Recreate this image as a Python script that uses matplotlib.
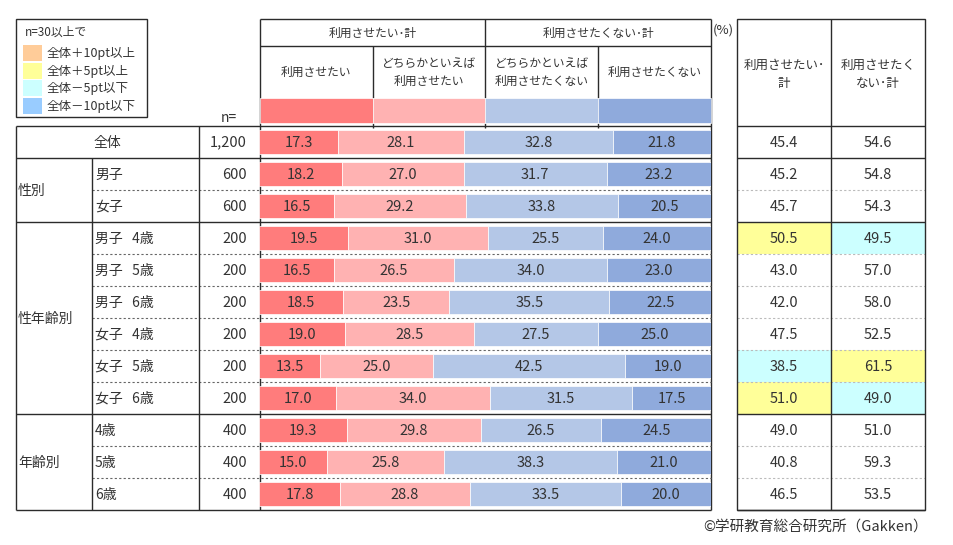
import numpy as np
import matplotlib
matplotlib.use("Agg")
import matplotlib.pyplot as plt
from matplotlib.patches import Rectangle

plt.rcParams['font.family'] = ['Noto Sans CJK JP', 'DejaVu Sans']

# ---- data ----
group_labels = ["", "性別", "性年齢別", "年齢別"]
group_sizes = [1, 2, 6, 3]
row_labels = ["全体", "男子", "女子",
              "男子   4歳", "男子   5歳", "男子   6歳",
              "女子   4歳", "女子   5歳", "女子   6歳",
              "4歳", "5歳", "6歳"]
n_values = [1200, 600, 600, 200, 200, 200, 200, 200, 200, 400, 400, 400]

categories = ["利用させたい", "どちらかといえば\n利用させたい",
              "どちらかといえば\n利用させたくない", "利用させたくない"]
group_heads = ["利用させたい･計", "利用させたくない･計"]

want = [17.3, 18.2, 16.5, 19.5, 16.5, 18.5, 19.0, 13.5, 17.0, 19.3, 15.0, 17.8]
rather_want = [28.1, 27.0, 29.2, 31.0, 26.5, 23.5, 28.5, 25.0, 34.0, 29.8, 25.8, 28.8]
rather_not = [32.8, 31.7, 33.8, 25.5, 34.0, 35.5, 27.5, 42.5, 31.5, 26.5, 38.3, 33.5]
not_want = [21.8, 23.2, 20.5, 24.0, 23.0, 22.5, 25.0, 19.0, 17.5, 24.5, 21.0, 20.0]

total_heads = ["利用させたい･\n計", "利用させたく\nない･計"]
total_want = [45.4, 45.2, 45.7, 50.5, 43.0, 42.0, 47.5, 38.5, 51.0, 49.0, 40.8, 46.5]
total_not = [54.6, 54.8, 54.3, 49.5, 57.0, 58.0, 52.5, 61.5, 49.0, 51.0, 59.3, 53.5]

legend_labels = ["全体＋10pt以上", "全体＋5pt以上", "全体－5pt以下", "全体－10pt以下"]

# ---- style ----
bar_colors = ["#FF7C7C", "#FFB2B2", "#B4C7E7", "#8FAADC"]
legend_colors = ["#FFCC99", "#FFFF99", "#CCFFFF", "#99CCFF"]
TXT = "#333333"
LINE = "#2b2b2b"
FS_NUM = 10.5
FS_LAB = 10
FS_HEAD = 8.5

W, H = 954, 545
TOP, HEAD_MID, SUB_BOT, SW_BOT = 19, 46, 97.5, 122.5
T_TOP, ROW_H = 125.5, 32
nrows = len(row_labels)
T_BOT = T_TOP + ROW_H * nrows
L0, L1, L2, B0, B1 = 16, 92, 199, 260, 711
R0, R1, R2 = 737, 831, 925
DY = 1.2  # text sits a touch below row centre

fig = plt.figure(figsize=(W / 100, H / 100), dpi=100)
ax = fig.add_axes([0, 0, 1, 1])
ax.set_xlim(0, W)
ax.set_ylim(H, 0)
ax.axis("off")


def hline(y, x0, x1, dashed=False, color=LINE, lw=1.0):
    ax.plot([x0, x1], [y, y], color=color, lw=lw,
            ls=(0, (2, 2)) if dashed else "-", solid_capstyle="butt")


def vline(x, y0, y1, color=LINE, lw=1.0):
    ax.plot([x, x], [y0, y1], color=color, lw=lw, solid_capstyle="butt")


# legend box
ax.add_patch(Rectangle((L0, 19), 131, 98, fill=False, ec=LINE, lw=1.0))
ax.text(25, 32, "n=30以上で", fontsize=FS_HEAD, color=TXT, va="center")
for k, (lab, col) in enumerate(zip(legend_labels, legend_colors)):
    y = 45 + k * 17.5
    ax.add_patch(Rectangle((23, y), 19, 16, color=col, lw=0))
    ax.text(47, y + 8.5, lab, fontsize=FS_HEAD + 0.5, color=TXT, va="center")
ax.text(229, 118, "n=", fontsize=FS_LAB, color=TXT, ha="center", va="center")

# header of bar block
hline(TOP, B0, B1)
hline(HEAD_MID, B0, B1)
vline(B0, TOP, T_BOT)
vline(B1, TOP, T_BOT)
mid = (B0 + B1) / 2
vline(mid, TOP, T_TOP + 2)
colw = (B1 - B0) / 4
for k in (1, 3):
    vline(B0 + k * colw, HEAD_MID, T_TOP + 2)
ax.text((B0 + mid) / 2, 33, group_heads[0], fontsize=FS_HEAD, color=TXT, ha="center", va="center")
ax.text((mid + B1) / 2, 33, group_heads[1], fontsize=FS_HEAD, color=TXT, ha="center", va="center")
for k, (cat, col) in enumerate(zip(categories, bar_colors)):
    cx = B0 + (k + 0.5) * colw
    ax.text(cx, 72, cat, fontsize=FS_HEAD, color=TXT, ha="center", va="center", linespacing=1.5)
    ax.add_patch(Rectangle((B0 + k * colw, SUB_BOT), colw, SW_BOT - SUB_BOT,
                           fc=col, ec="white", lw=0.5, zorder=3))
ax.text(713, 30, "(%)", fontsize=9.5, color=TXT, va="center")

# row lines
bounds = np.cumsum([0] + group_sizes)
hline(T_TOP, L0, B1)
hline(T_TOP, R0, R2)
for i in range(1, nrows + 1):
    y = T_TOP + i * ROW_H
    if i in bounds:
        hline(y, L0, B1)
        hline(y, R0, R2)
    else:
        hline(y, L1, B1, dashed=True, color="#666666", lw=0.8)
        hline(y, R0, R2, dashed=True, color="#bbbbbb", lw=0.8)

vline(L0, T_TOP, T_BOT)
vline(L1, T_TOP + ROW_H, T_BOT)
vline(L2, T_TOP, T_BOT)

# left table text
ax.text((L0 + L2) / 2, T_TOP + ROW_H / 2 + DY, row_labels[0], fontsize=FS_LAB, color=TXT,
        ha="center", va="center")
for g in range(1, len(group_labels)):
    yc = T_TOP + (bounds[g] + bounds[g + 1]) / 2 * ROW_H + DY
    ax.text(L0 + 2, yc, group_labels[g], fontsize=FS_LAB, color=TXT, va="center")
for i in range(nrows):
    yc = T_TOP + (i + 0.5) * ROW_H + DY
    if i > 0:
        ax.text(L1 + 3, yc, row_labels[i], fontsize=FS_LAB, color=TXT, va="center")
    ax.text(247, yc, f"{n_values[i]:,}", fontsize=FS_NUM, color=TXT, ha="right", va="center")

# right table
ax.add_patch(Rectangle((R0, TOP), R2 - R0, T_BOT - TOP, fill=False, ec=LINE, lw=1.0, zorder=4))
vline(R1, TOP, T_BOT)
for k, head in enumerate(total_heads):
    cx = (R0 + R1) / 2 if k == 0 else (R1 + R2) / 2
    ax.text(cx, 74, head, fontsize=FS_HEAD + 0.5, color=TXT, ha="center", va="center", linespacing=1.5)

base_w, base_n = total_want[0], total_not[0]


def cell_color(v, base, n):
    if n < 30:
        return None
    d = round(v - base, 1)
    if d >= 10:
        return legend_colors[0]
    if d >= 5:
        return legend_colors[1]
    if d <= -10:
        return legend_colors[3]
    if d <= -5:
        return legend_colors[2]
    return None


for i in range(nrows):
    y0 = T_TOP + i * ROW_H
    for (x0, x1, v, base) in ((R0, R1, total_want[i], base_w), (R1, R2, total_not[i], base_n)):
        c = cell_color(v, base, n_values[i]) if i > 0 else None
        if c:
            ax.add_patch(Rectangle((x0, y0), x1 - x0, ROW_H, color=c, lw=0, zorder=0.5))
        ax.text((x0 + x1) / 2, y0 + ROW_H / 2 + DY, f"{v:.1f}", fontsize=FS_NUM, color=TXT,
                ha="center", va="center")

ax.text(R2 + 3, 528, "©学研教育総合研究所（Gakken）", fontsize=10.5, color=TXT, ha="right", va="center")

# stacked bars
bx = fig.add_axes([(B0 - 0.5) / W, 1 - T_BOT / H, (B1 - B0 + 0.5) / W, (T_BOT - T_TOP) / H])
bx.patch.set_alpha(0)
bx.set_xlim(0, 100)
bx.set_ylim(nrows - 0.5, -0.5)
bx.axis("off")
series = [want, rather_want, rather_not, not_want]
ypos = np.arange(nrows) + 0.02
left = np.zeros(nrows)
for vals, col in zip(series, bar_colors):
    vals = np.array(vals)
    bx.barh(ypos, vals, left=left, height=0.76, color=col, edgecolor="white", linewidth=0.5)
    for i, v in enumerate(vals):
        bx.text(left[i] + v / 2, ypos[i] + DY / ROW_H, f"{v:.1f}", fontsize=FS_NUM, color=TXT,
                ha="center", va="center")
    left += vals

fig.savefig("out.png", dpi=100)
